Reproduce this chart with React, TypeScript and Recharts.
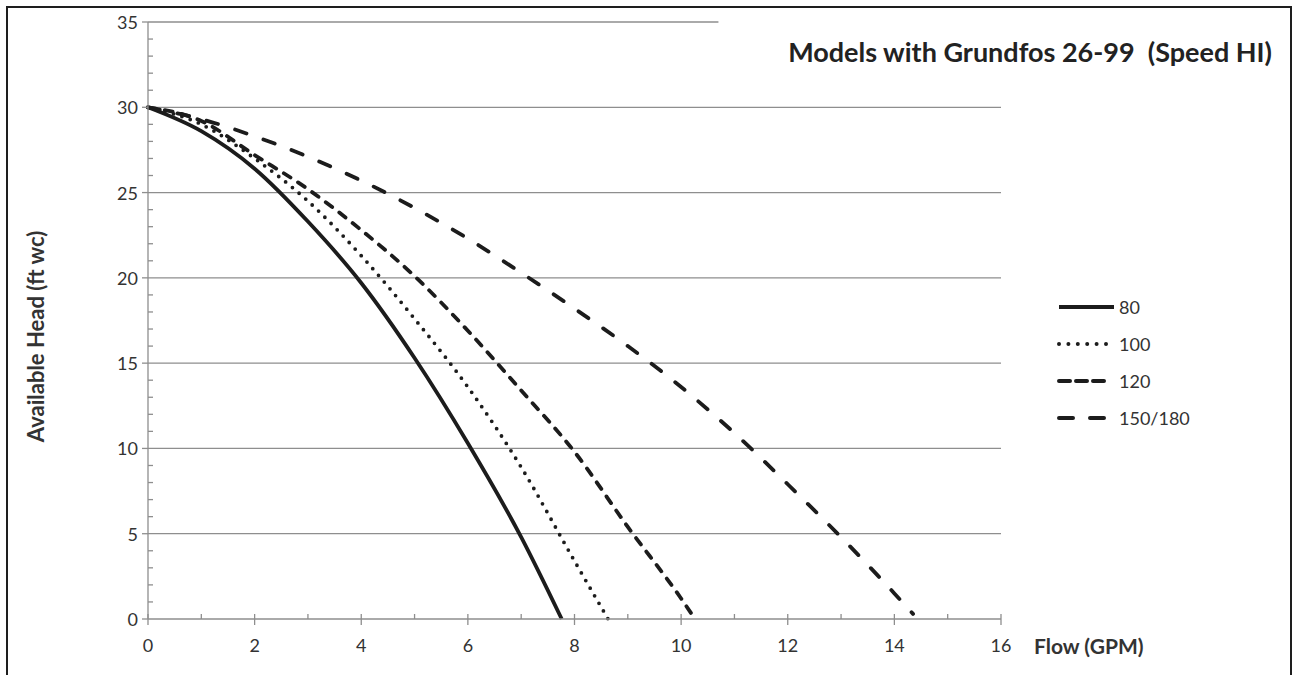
import React from 'react';
import { LineChart, Line, XAxis, YAxis, ReferenceLine, Legend } from 'recharts';

// pump curves: flow (GPM) vs available head (ft wc)
const flow80 = [0, 1, 2, 3, 4, 5, 6, 7, 7.76];
const head80 = [30, 28.6, 26.4, 23.3, 19.7, 15.3, 10.3, 4.8, 0];

const flow100 = [0, 1, 2, 3, 4, 5, 6, 7, 8, 8.63];
const head100 = [30, 29.0, 27.0, 24.5, 21.3, 17.6, 13.6, 8.9, 3.4, 0];

const flow120 = [0, 1, 2, 3, 4, 5, 6, 7, 8, 9, 10, 10.26];
const head120 = [30, 29.2, 27.2, 25.2, 22.8, 20.1, 16.9, 13.4, 9.8, 5.4, 1.2, 0];

const flow150 = [0, 1, 2, 3, 4, 5, 6, 7, 8, 9, 10, 11, 12, 13, 14, 14.35];
const head150 = [30, 29.3, 28.3, 27.1, 25.7, 24.1, 22.3, 20.3, 18.2, 16.0, 13.6, 10.9, 7.9, 4.8, 1.5, 0.3];

const seriesNames = ['80', '100', '120', '150/180'];

const xTicks = [0, 1, 2, 3, 4, 5, 6, 7, 8, 9, 10, 11, 12, 13, 14, 15, 16];
const yTicks = Array.from({ length: 36 }, (_, i) => i);
const gridValues = [5, 10, 15, 20, 25, 30];
const topGridEnd = 10.7; // the 35 line stops short under the title

const title = 'Models with Grundfos 26-99  (Speed HI)';

const FONT = 'Lato, "Open Sans", sans-serif';
const AXIS = '#8e8e8e';
const INK = '#1c1c1c';
const TEXT = '#333';

const toPoints = (xs: number[], ys: number[]) => xs.map((x, i) => ({ x, y: ys[i] }));

const series = [
  { name: seriesNames[0], data: toPoints(flow80, head80), dash: undefined, cap: 'butt', legendDash: undefined },
  { name: seriesNames[1], data: toPoints(flow100, head100), dash: '0 8.8', cap: 'round', legendDash: '0 9.4' },
  { name: seriesNames[2], data: toPoints(flow120, head120), dash: '8 9', cap: 'round', legendDash: '11 6' },
  { name: seriesNames[3], data: toPoints(flow150, head150), dash: '12 18', cap: 'round', legendDash: '14 17' },
];

const XTick = ({ x, y, payload }: any) => {
  const v = payload.value;
  const major = v % 2 === 0;
  return (
    <g>
      <line x1={x} x2={x} y1={y - 5} y2={major ? y + 6 : y} stroke={AXIS} strokeWidth={1.3} />
      {major && (
        <text x={x} y={y + 26} textAnchor="middle" dominantBaseline="central"
          fontFamily={FONT} fontSize={18} fill={TEXT}>{v}</text>
      )}
    </g>
  );
};

const YTick = ({ x, y, payload }: any) => {
  const v = payload.value;
  const major = v % 5 === 0;
  return (
    <g>
      <line x1={major ? x - 6 : x} x2={major ? x : x + 5} y1={y} y2={y} stroke={AXIS} strokeWidth={1.3} />
      {major && (
        <text x={x - 10} y={y} textAnchor="end" dominantBaseline="central"
          fontFamily={FONT} fontSize={18} fill={TEXT}>{v}</text>
      )}
    </g>
  );
};

const LegendBox = () => (
  <svg width={200} height={150} style={{ overflow: 'visible' }}>
    {series.map((s, i) => {
      const cy = 19 + i * 37;
      return (
        <g key={s.name}>
          <line x1={2} x2={i === 0 ? 57 : 49} y1={cy} y2={cy} stroke={INK} strokeWidth={4}
            strokeDasharray={s.legendDash} strokeLinecap={s.cap as any} />
          <text x={62} y={cy} dominantBaseline="central" fontFamily={FONT} fontSize={18} fill={TEXT}>
            {s.name}
          </text>
        </g>
      );
    })}
  </svg>
);

export default function App() {
  return (
    <div style={{ position: 'absolute', left: 0, top: 0, width: 1294, height: 675, background: '#fff', overflow: 'hidden' }}>
      <div style={{ position: 'absolute', left: 6, top: 6, width: 1286, height: 720, border: '2.5px solid #1e1e1e', boxSizing: 'border-box' }} />
      <LineChart width={1294} height={675} margin={{ top: 22, right: 293, bottom: 0, left: 0 }}>
        <XAxis
          dataKey="x" type="number" domain={[0, 16]} ticks={xTicks} interval={0}
          height={56} tickSize={0} tickMargin={0} tickLine={false}
          axisLine={{ stroke: AXIS, strokeWidth: 1.3 }} tick={<XTick />}
          allowDuplicatedCategory={false}
          label={{
            content: (p: any) => {
              const vb = p.viewBox;
              return (
                <text x={vb.x + vb.width + 33} y={vb.y + 26} dominantBaseline="central"
                  fontFamily={FONT} fontWeight={700} fontSize={21} fill={TEXT}>Flow (GPM)</text>
              );
            },
          }}
        />
        <YAxis
          dataKey="y" type="number" domain={[0, 35]} ticks={yTicks} interval={0}
          width={148} tickSize={0} tickMargin={0} tickLine={false}
          axisLine={{ stroke: AXIS, strokeWidth: 1.3 }} tick={<YTick />}
          label={{
            content: (p: any) => {
              const vb = p.viewBox;
              const cx = vb.x + 35;
              const cy = vb.y + vb.height / 2 + 16;
              return (
                <text x={cx} y={cy} transform={`rotate(-90 ${cx} ${cy})`} textAnchor="middle"
                  dominantBaseline="central" fontFamily={FONT} fontWeight={700} fontSize={22} fill={TEXT}>
                  Available Head (ft wc)
                </text>
              );
            },
          }}
        />
        {gridValues.map((v) => (
          <ReferenceLine key={v} y={v} stroke={AXIS} strokeWidth={1.3} />
        ))}
        <ReferenceLine segment={[{ x: 0, y: 35 }, { x: topGridEnd, y: 35 }]} stroke={AXIS} strokeWidth={1.3} />
        {series.map((s) => (
          <Line
            key={s.name} data={s.data} dataKey="y" name={s.name} type="monotone"
            stroke={INK} strokeWidth={3.8} strokeDasharray={s.dash} strokeLinecap={s.cap as any}
            dot={false} activeDot={false} isAnimationActive={false}
          />
        ))}
        <Legend
          layout="vertical" align="center" verticalAlign="middle"
          wrapperStyle={{ left: 1057, top: 288, width: 200 }}
          content={() => <LegendBox />}
        />
      </LineChart>
      <div style={{
        position: 'absolute', right: 22, top: 38, fontFamily: FONT, fontWeight: 700, fontSize: 27,
        lineHeight: '27px', color: '#222', whiteSpace: 'pre',
      }}>{title}</div>
    </div>
  );
}
